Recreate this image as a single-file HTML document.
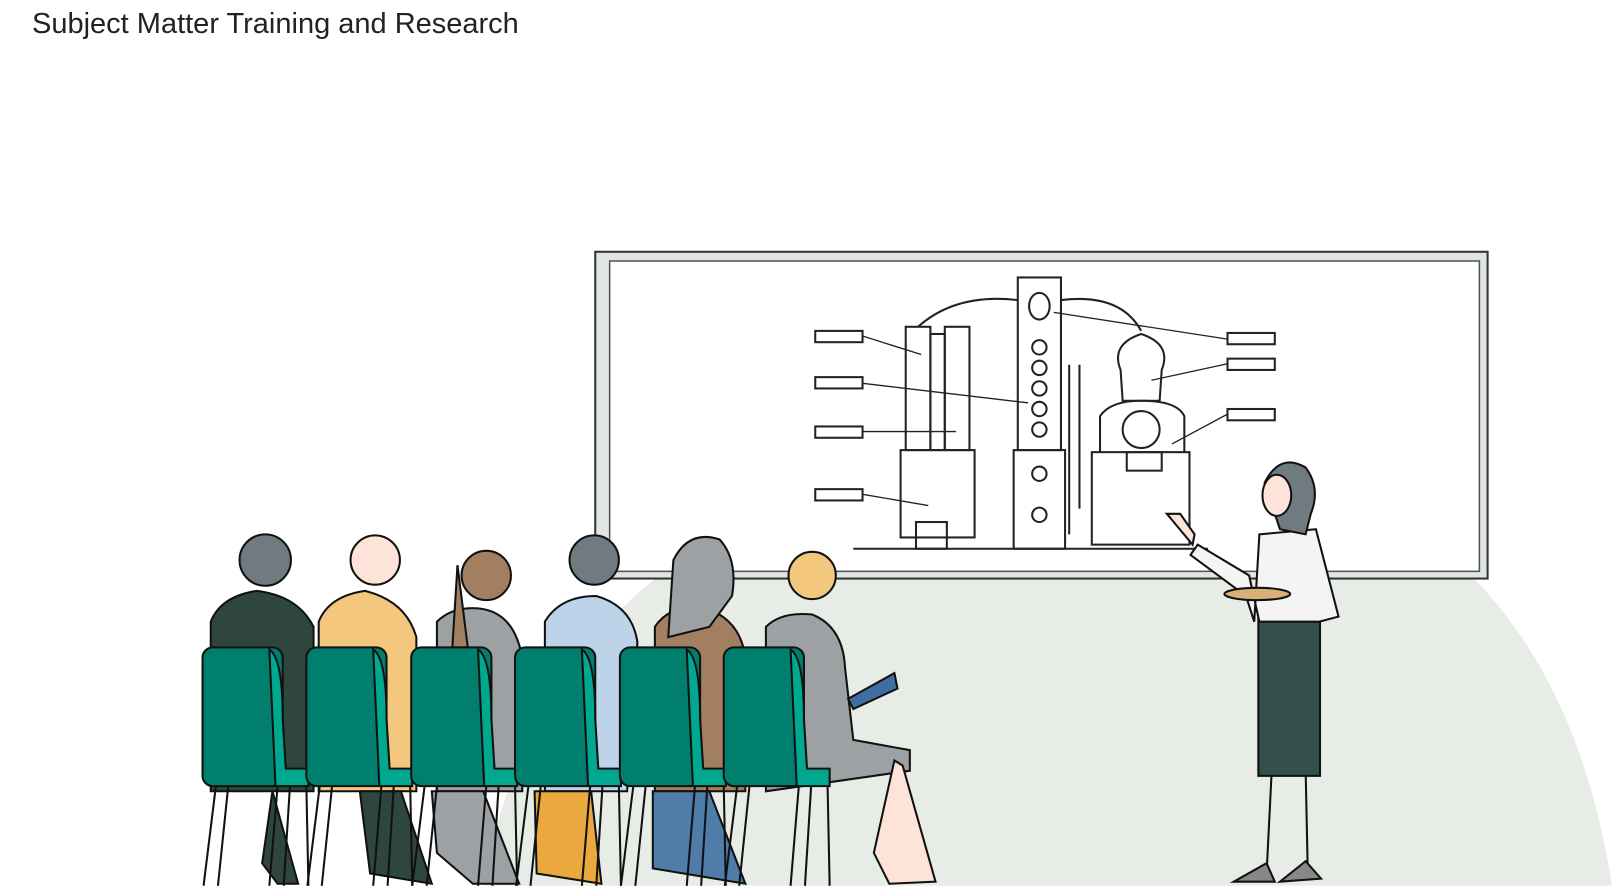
<!DOCTYPE html>
<html><head><meta charset="utf-8"><style>
html,body{margin:0;padding:0;background:#fff;}
body{width:1612px;height:893px;overflow:hidden;position:relative;font-family:"Liberation Sans",sans-serif;}
.t{position:absolute;left:32px;top:8px;font-size:29px;color:#222;}
svg{position:absolute;left:0;top:0;}
</style></head><body>
<svg width="1612" height="893" viewBox="0 0 1568 869" preserveAspectRatio="none">
<path d="M470 862 Q540 470 1030 425 Q1500 420 1568 862 Z" fill="#e7ede6"/>
<rect x="579" y="245" width="868" height="318" fill="#dfe5e3" stroke="#333" stroke-width="2"/>
<rect x="593" y="254" width="846" height="302" fill="#fff" stroke="#555" stroke-width="1.5"/>
<g fill="none" stroke="#222" stroke-width="2">
<line x1="830" y1="534" x2="1175" y2="534"/>
<rect x="881" y="318" width="24" height="120"/><rect x="919" y="318" width="24" height="120"/><rect x="905" y="325" width="14" height="113"/>
<rect x="876" y="438" width="72" height="85"/><rect x="891" y="508" width="30" height="26"/>
<rect x="990" y="270" width="42" height="168"/><rect x="986" y="438" width="50" height="96"/>
<ellipse cx="1011" cy="298" rx="10" ry="13"/>
<circle cx="1011" cy="338" r="7"/><circle cx="1011" cy="358" r="7"/><circle cx="1011" cy="378" r="7"/><circle cx="1011" cy="398" r="7"/><circle cx="1011" cy="418" r="7"/>
<circle cx="1011" cy="461" r="7"/><circle cx="1011" cy="501" r="7"/>
<path d="M893 318 Q930 285 990 292"/><path d="M1032 292 Q1090 285 1110 322"/>
<path d="M1090 360 Q1080 335 1110 325 Q1140 335 1130 360 L1128 390 L1092 390 Z"/>
<path d="M1070 440 L1070 405 Q1080 390 1110 390 Q1145 390 1152 405 L1152 440"/>
<circle cx="1110" cy="418" r="18"/>
<rect x="1062" y="440" width="95" height="90"/>
<rect x="1096" y="440" width="34" height="18"/>
<line x1="1040" y1="355" x2="1040" y2="520"/><line x1="1050" y1="355" x2="1050" y2="495"/>
</g>
<g fill="#fff" stroke="#222" stroke-width="2">
<rect x="793" y="322" width="46" height="11"/><rect x="793" y="367" width="46" height="11"/><rect x="793" y="415" width="46" height="11"/><rect x="793" y="476" width="46" height="11"/>
<rect x="1194" y="324" width="46" height="11"/><rect x="1194" y="349" width="46" height="11"/><rect x="1194" y="398" width="46" height="11"/>
</g>
<g stroke="#222" stroke-width="1.3">
<line x1="839" y1="327" x2="896" y2="345"/><line x1="839" y1="373" x2="1000" y2="392"/><line x1="839" y1="420" x2="930" y2="420"/><line x1="839" y1="481" x2="903" y2="492"/>
<line x1="1194" y1="330" x2="1025" y2="304"/><line x1="1194" y1="354" x2="1120" y2="370"/><line x1="1194" y1="403" x2="1140" y2="432"/>
</g>
<g stroke="#111" stroke-width="2">
<path d="M1237 750 L1232 850 L1222 852 M1270 750 L1272 845 L1262 850" fill="none"/>
<path d="M1232 840 L1200 858 L1240 858 Z M1270 838 L1245 858 L1285 855 Z" fill="#888"/>
<rect x="1224" y="600" width="60" height="155" fill="#33504a"/>
<path d="M1225 520 L1280 515 L1302 600 L1283 605 L1225 605 L1215 560 L1165 530 L1158 540 L1212 580 L1220 605 Z" fill="#f4f4f4"/>
<ellipse cx="1223" cy="578" rx="32" ry="6" fill="#d9b078"/>
<path d="M1230 470 Q1245 440 1270 455 Q1285 475 1275 500 L1270 520 L1245 515 Z" fill="#6f7b80"/>
<ellipse cx="1242" cy="482" rx="14" ry="20" fill="#fde3d8"/>
<path d="M1160 530 L1135 500 L1148 500 L1162 520 Z" fill="#fde3d8"/>
</g>
<g stroke="#111" stroke-width="2">
<path d="M205 605 Q215 580 250 575 Q290 580 305 610 L305 770 L205 770 Z" fill="#2f463f"/>
<circle cx="258" cy="545" r="25" fill="#6f7b80"/>
<path d="M265 770 L255 840 L270 860 L290 860 Z" fill="#2f463f"/>
<path d="M310 605 Q320 580 355 575 Q395 585 405 620 L405 770 L310 770 Z" fill="#f3c77e"/>
<circle cx="365" cy="545" r="24" fill="#fde3d8"/>
<path d="M350 770 L360 850 L420 860 L390 770 Z" fill="#2f463f"/>
<path d="M425 605 Q440 590 465 592 Q500 595 508 640 L508 770 L425 770 Z" fill="#9ea1a3"/>
<circle cx="473" cy="560" r="24" fill="#a37f62"/>
<path d="M445 550 L440 630 L455 630 Z" fill="#a37f62"/>
<path d="M420 770 L425 830 L460 860 L505 860 L470 770 Z" fill="#9ea1a3"/>
<path d="M530 605 Q545 580 580 580 Q615 590 620 625 L610 770 L530 770 Z" fill="#bcd3ea"/>
<circle cx="578" cy="545" r="24" fill="#6f7b80"/>
<path d="M520 770 L522 850 L585 860 L575 770 Z" fill="#eaa93e"/>
<path d="M637 610 Q650 590 680 590 Q720 600 725 640 L725 770 L637 770 Z" fill="#a37f62"/>
<path d="M655 545 Q670 515 700 525 Q718 545 712 580 L690 610 L650 620 Z" fill="#9ea1a3"/>
<path d="M635 770 L635 845 L725 860 L690 770 Z" fill="#4f7ca8"/>
<path d="M745 610 Q760 595 790 598 Q820 610 822 650 L830 720 L885 730 L885 750 L745 770 Z" fill="#9ea1a3"/>
<circle cx="790" cy="560" r="23" fill="#f3c77e"/>
<path d="M870 740 L850 830 L865 860 L910 858 L878 745 Z" fill="#fde3d8"/>
<path d="M825 680 L870 655 L873 670 L830 690 Z" fill="#3f6fa0"/>
</g>
<g stroke="#111" stroke-width="2">
<g id="c">
<line x1="210" y1="765" x2="198" y2="862" /><line x1="222" y1="765" x2="212" y2="862"/>
<line x1="270" y1="765" x2="262" y2="862"/><line x1="282" y1="765" x2="276" y2="862"/>
<line x1="298" y1="765" x2="300" y2="862"/>
<rect x="197" y="630" width="78" height="135" rx="10" fill="#007f6e"/>
<path d="M262 632 Q275 640 275 700 L278 748 L300 748 L300 765 L268 765 Z" fill="#00a890"/>
</g>
<use href="#c" x="101"/><use href="#c" x="203"/><use href="#c" x="304"/><use href="#c" x="406"/><use href="#c" x="507"/>
</g>
</svg>
<div class="t">Subject Matter Training and Research</div>
</body></html>
